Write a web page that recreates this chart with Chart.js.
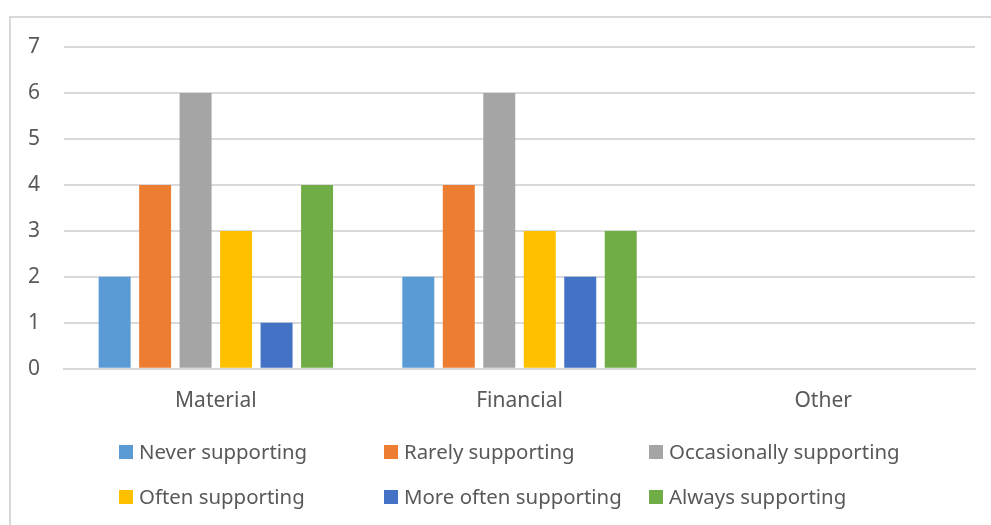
<!DOCTYPE html>
<html>
<head>
<meta charset="utf-8">
<script src="https://cdn.jsdelivr.net/npm/chart.js@4"></script>
<style>
  body { margin: 0; background: #fff; overflow: hidden; }
  #frame { position: absolute; left: 9px; top: 16px; width: 1000px; height: 600px;
           border-left: 2px solid #d9d9d9; border-top: 2px solid #d9d9d9; }
  #wrap { position: absolute; left: 0; top: 0; width: 991px; height: 525px; }
</style>
</head>
<body>
<div id="frame"></div>
<div id="wrap"><canvas id="myChart"></canvas></div>
<script>
const ctx = document.getElementById('myChart').getContext('2d');

// Categories on the x-axis
const categories = ['Material', 'Financial', 'Other'];

// Series names and values (one value per category)
const seriesNames = [
    'Never supporting', 'Rarely supporting', 'Occasionally supporting',
    'Often supporting', 'More often supporting', 'Always supporting'
];
const neverVals = [2, 2, 0];
const rarelyVals = [4, 4, 0];
const occasionallyVals = [6, 6, 0];
const oftenVals = [3, 3, 0];
const moreOftenVals = [1, 2, 0];
const alwaysVals = [4, 3, 0];
const seriesColors = ['#5B9BD5', '#ED7D31', '#A5A5A5', '#FFC000', '#4472C4', '#70AD47'];

const yTicks = [0, 1, 2, 3, 4, 5, 6, 7];

const allValues = [neverVals, rarelyVals, occasionallyVals, oftenVals, moreOftenVals, alwaysVals];

const textColor = '#595959';
const fontFamily = '"Noto Sans", "Open Sans", sans-serif';
const fontSize = 21;

// Legend drawn as a grid of 3 columns, 2 rows (like the Office chart)
const gridLegend = {
    id: 'gridLegend',
    afterDraw(chart) {
        const c = chart.ctx;
        const startX = 119, colW = 265, rowY = [452, 497], box = 14;
        c.save();
        c.font = '20.4px ' + fontFamily;
        c.textBaseline = 'middle';
        chart.data.datasets.forEach((ds, i) => {
            const x = startX + (i % 3) * colW;
            const y = rowY[Math.floor(i / 3)];
            c.fillStyle = ds.backgroundColor;
            c.fillRect(x, y - box / 2, box, box);
            c.fillStyle = textColor;
            c.fillText(ds.label, x + box + 6, y + 1);
        });
        c.restore();
    }
};

const myChart = new Chart(ctx, {
    type: 'bar',
    data: {
        labels: categories,
        datasets: seriesNames.map((name, i) => ({
            label: name,
            data: allValues[i],
            backgroundColor: seriesColors[i],
            categoryPercentage: 0.8,
            barPercentage: 0.79
        }))
    },
    options: {
        responsive: true,
        maintainAspectRatio: false,
        animation: false,
        layout: {
            padding: { left: 4, right: 16, top: 47, bottom: 91 }
        },
        plugins: {
            legend: { display: false },
            tooltip: { enabled: false }
        },
        scales: {
            x: {
                grid: { display: false, drawTicks: false },
                border: { color: '#d9d9d9', width: 2 },
                ticks: {
                    color: textColor,
                    font: { family: fontFamily, size: fontSize },
                    padding: 20
                }
            },
            y: {
                min: 0,
                max: 7,
                afterBuildTicks(scale) {
                    scale.ticks = yTicks.map(v => ({ value: v }));
                },
                grid: { color: '#d9d9d9', lineWidth: 2, drawTicks: false },
                border: { display: false },
                ticks: {
                    color: textColor,
                    font: { family: fontFamily, size: fontSize },
                    padding: 24
                }
            }
        }
    },
    plugins: [gridLegend]
});
</script>
</body>
</html>
